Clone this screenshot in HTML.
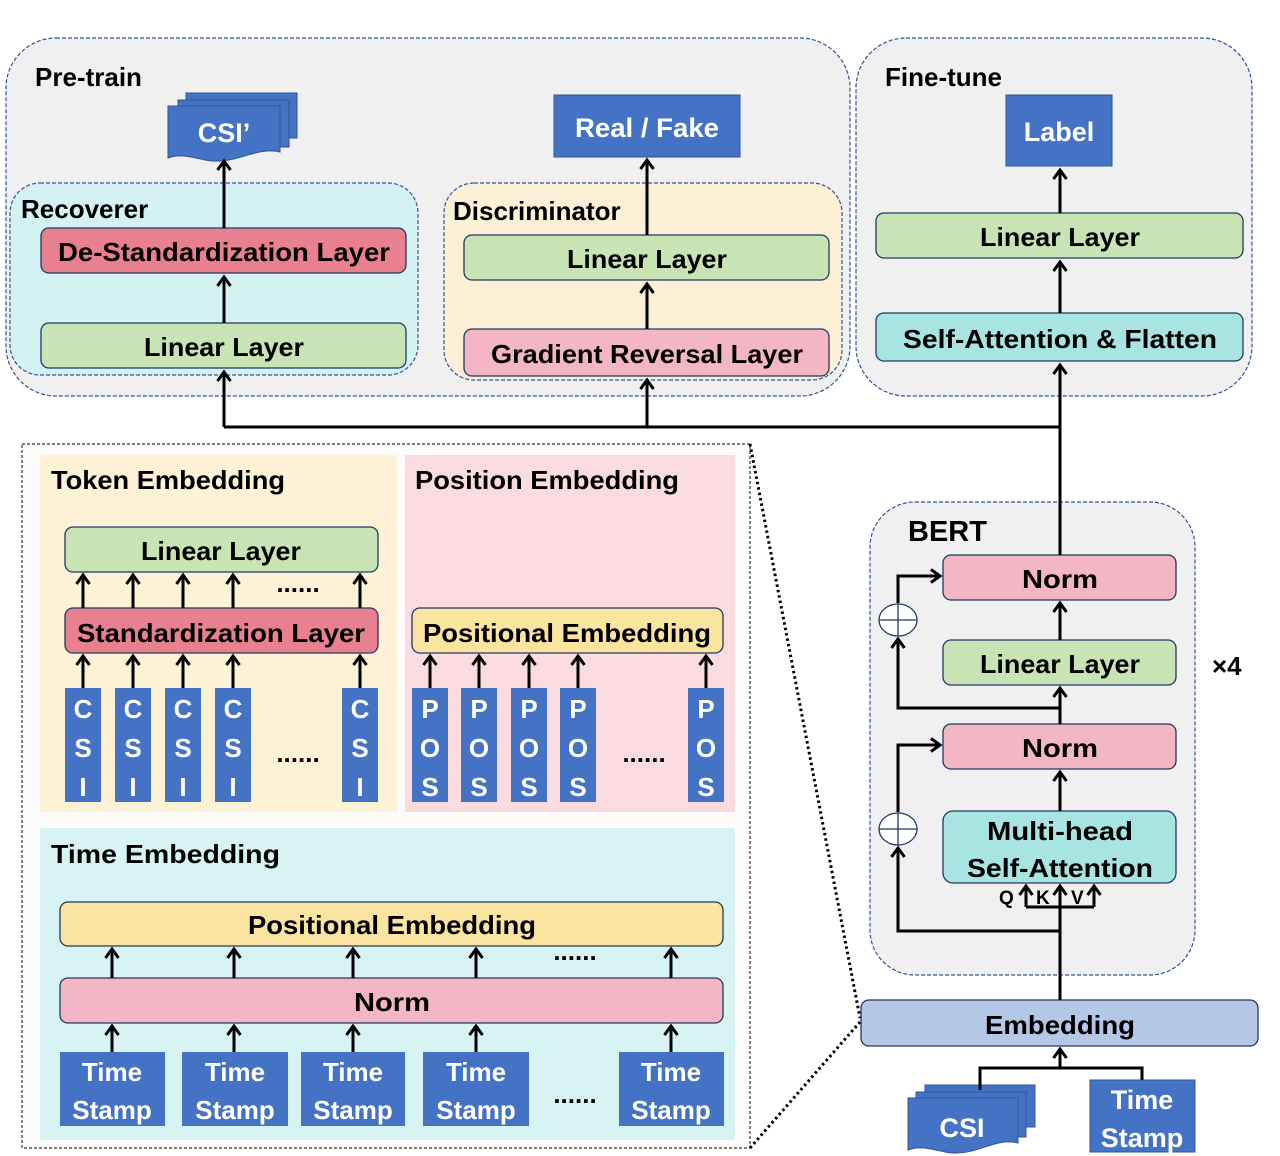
<!DOCTYPE html>
<html><head><meta charset="utf-8"><style>
html,body{margin:0;padding:0;background:#fff;}
svg{display:block;}
text{font-family:"Liberation Sans",sans-serif;font-weight:bold;}
</style></head><body>
<svg width="1280" height="1156" viewBox="0 0 1280 1156" xmlns="http://www.w3.org/2000/svg">
<defs>
<marker id="a" markerUnits="userSpaceOnUse" markerWidth="18" markerHeight="18" refX="11" refY="8" orient="auto">
<path d="M2,1.5 L11,8 L2,14.5" fill="none" stroke="#000" stroke-width="3"/>
</marker>
</defs>
<g stroke="#2f5597" stroke-width="1.2" stroke-dasharray="4,2">
<rect x="6" y="38" width="844" height="358" rx="50" fill="#f0f0f0"/>
<rect x="856" y="38" width="396" height="358" rx="50" fill="#f0f0f0"/>
<rect x="10" y="183" width="408" height="192" rx="30" fill="#d5f2f2"/>
<rect x="444" y="183" width="398" height="197" rx="30" fill="#fbf0d5"/>
<rect x="870" y="502" width="325" height="473" rx="45" fill="#f0f0f0"/>
</g>
<text x="35" y="86" font-size="26">Pre-train</text>
<text x="885" y="86" font-size="26">Fine-tune</text>
<text x="21" y="218" font-size="26">Recoverer</text>
<text x="453" y="220" font-size="26">Discriminator</text>
<text x="908" y="541" font-size="29">BERT</text>
<text x="1212" y="675" font-size="26">×4</text>

<g stroke="#1f3864" stroke-width="1.3">
<rect x="41" y="228" width="365" height="45" rx="8" fill="#e8808f"/>
<rect x="41" y="323" width="365" height="45" rx="8" fill="#c9e4b4"/>
<rect x="464" y="235" width="365" height="45" rx="8" fill="#c9e4b4"/>
<rect x="464" y="329" width="365" height="47" rx="8" fill="#f3b6c4"/>
<rect x="876" y="213" width="367" height="45" rx="8" fill="#c9e4b4"/>
<rect x="876" y="313" width="367" height="48" rx="8" fill="#a8e5e2"/>
<rect x="943" y="555" width="233" height="45" rx="8" fill="#f3b6c4"/>
<rect x="943" y="640" width="233" height="45" rx="8" fill="#c9e4b4"/>
<rect x="943" y="724" width="233" height="45" rx="8" fill="#f3b6c4"/>
<rect x="943" y="811" width="233" height="72" rx="10" fill="#a8e5e2"/>
<rect x="861" y="1000" width="397" height="46" rx="8" fill="#b4c7e7"/>
</g>
<g font-size="26" text-anchor="middle">
<text x="224" y="261" textLength="332" lengthAdjust="spacingAndGlyphs">De-Standardization Layer</text>
<text x="224" y="356" textLength="160" lengthAdjust="spacingAndGlyphs">Linear Layer</text>
<text x="647" y="268" textLength="160" lengthAdjust="spacingAndGlyphs">Linear Layer</text>
<text x="647" y="363" textLength="312" lengthAdjust="spacingAndGlyphs">Gradient Reversal Layer</text>
<text x="1060" y="246" textLength="160" lengthAdjust="spacingAndGlyphs">Linear Layer</text>
<text x="1060" y="348" textLength="314" lengthAdjust="spacingAndGlyphs">Self-Attention &amp; Flatten</text>
<text x="1060" y="588" textLength="76" lengthAdjust="spacingAndGlyphs">Norm</text>
<text x="1060" y="673" textLength="160" lengthAdjust="spacingAndGlyphs">Linear Layer</text>
<text x="1060" y="757" textLength="76" lengthAdjust="spacingAndGlyphs">Norm</text>
<text x="1060" y="840" textLength="146" lengthAdjust="spacingAndGlyphs">Multi-head</text>
<text x="1060" y="877" textLength="186" lengthAdjust="spacingAndGlyphs">Self-Attention</text>
<text x="1060" y="1034" textLength="150" lengthAdjust="spacingAndGlyphs">Embedding</text>
</g>

<g fill="#4472c4" stroke="#2f5597" stroke-width="1">
<rect x="186" y="93" width="111" height="45"/>
<rect x="178" y="100" width="111" height="47"/>
<path d="M168,106 H280 V152 C255,146 235,166 205,160 C188,156 178,154 168,158 Z"/>
<rect x="554" y="95" width="186" height="62"/>
<rect x="1006" y="95" width="106" height="71"/>
<rect x="925" y="1085" width="110" height="42"/>
<rect x="916" y="1092" width="110" height="45"/>
<path d="M908,1098 H1018 V1143 C993,1137 975,1158 945,1152 C928,1148 918,1146 908,1150 Z"/>
<rect x="1090" y="1080" width="105" height="72"/>
</g>
<g fill="#fff" font-size="27" text-anchor="middle">
<text x="224" y="142">CSI’</text>
<text x="647" y="137" textLength="144" lengthAdjust="spacingAndGlyphs">Real / Fake</text>
<text x="1059" y="141">Label</text>
<text x="962" y="1137">CSI</text>
<text x="1142" y="1109">Time</text>
<text x="1142" y="1147">Stamp</text>
</g>

<g stroke="#000" stroke-width="3" fill="none">
<path d="M224,427 H1060"/>
<path d="M224,427 V372" marker-end="url(#a)"/>
<path d="M647,427 V380" marker-end="url(#a)"/>
<path d="M1060,427 V365" marker-end="url(#a)"/>
<path d="M224,323 V277" marker-end="url(#a)"/>
<path d="M224,228 V161" marker-end="url(#a)"/>
<path d="M647,329 V284" marker-end="url(#a)"/>
<path d="M647,235 V160" marker-end="url(#a)"/>
<path d="M1060,313 V262" marker-end="url(#a)"/>
<path d="M1060,213 V170" marker-end="url(#a)"/>
<path d="M1060,555 V427"/>
<path d="M1060,1000 V907"/>
<path d="M1026,907 H1094"/>
<path d="M1026,907 V886" marker-end="url(#a)"/>
<path d="M1060,907 V886" marker-end="url(#a)"/>
<path d="M1094,907 V886" marker-end="url(#a)"/>
<path d="M1060,931 H898 V848" marker-end="url(#a)"/>
<path d="M898,812 V745 H940" marker-end="url(#a)"/>
<path d="M1060,811 V772" marker-end="url(#a)"/>
<path d="M1060,724 V688" marker-end="url(#a)"/>
<path d="M1060,708 H898 V639" marker-end="url(#a)"/>
<path d="M898,603 V576 H940" marker-end="url(#a)"/>
<path d="M1060,640 V603" marker-end="url(#a)"/>
<path d="M980,1090 V1068 H1142 V1080"/>
<path d="M1060,1068 V1049" marker-end="url(#a)"/>
</g>
<g stroke="#1f3864" stroke-width="1.3" fill="#fff">
<ellipse cx="898" cy="829" rx="19" ry="16"/>
<ellipse cx="898" cy="620" rx="19" ry="16"/>
<path d="M879,829 H917 M898,813 V845 M879,620 H917 M898,604 V636" fill="none"/>
</g>
<g font-size="19"><text x="999" y="904">Q</text><text x="1036" y="904">K</text><text x="1071" y="904">V</text></g>

<rect x="22" y="444" width="728" height="704" fill="#fcfcfc" stroke="#333" stroke-width="1.2" stroke-dasharray="3,2"/>
<path d="M750,444 L860,1018 M750,1148 L860,1022" stroke="#000" stroke-width="3" stroke-dasharray="2.5,3" fill="none"/>
<rect x="40" y="455" width="357" height="357" fill="#fdf1d6"/>
<rect x="405" y="455" width="330" height="357" fill="#fadbe0"/>
<rect x="40" y="828" width="695" height="312" fill="#d8f3f3"/>
<g font-size="26">
<text x="51" y="489" textLength="234" lengthAdjust="spacingAndGlyphs">Token Embedding</text>
<text x="415" y="489" textLength="264" lengthAdjust="spacingAndGlyphs">Position Embedding</text>
<text x="51" y="863" textLength="229" lengthAdjust="spacingAndGlyphs">Time  Embedding</text>
</g>
<g stroke="#1f3864" stroke-width="1.3">
<rect x="65" y="527" width="313" height="45" rx="8" fill="#c9e4b4"/>
<rect x="65" y="608" width="313" height="45" rx="8" fill="#e8808f"/>
<rect x="412" y="608" width="311" height="45" rx="8" fill="#fbe3a0"/>
<rect x="60" y="902" width="663" height="44" rx="8" fill="#fbe3a0"/>
<rect x="60" y="978" width="663" height="45" rx="8" fill="#f3b6c4"/>
</g>
<g font-size="26" text-anchor="middle">
<text x="221" y="560" textLength="160" lengthAdjust="spacingAndGlyphs">Linear Layer</text>
<text x="221" y="642" textLength="288" lengthAdjust="spacingAndGlyphs">Standardization Layer</text>
<text x="567" y="642" textLength="288" lengthAdjust="spacingAndGlyphs">Positional Embedding</text>
<text x="392" y="934" textLength="288" lengthAdjust="spacingAndGlyphs">Positional Embedding</text>
<text x="392" y="1011" textLength="76" lengthAdjust="spacingAndGlyphs">Norm</text>
</g>
<g fill="#4472c4">
<rect x="65" y="688" width="36" height="114"/><rect x="115" y="688" width="36" height="114"/>
<rect x="165" y="688" width="36" height="114"/><rect x="215" y="688" width="36" height="114"/>
<rect x="342" y="688" width="36" height="114"/>
<rect x="412" y="688" width="36" height="114"/><rect x="461" y="688" width="36" height="114"/>
<rect x="511" y="688" width="36" height="114"/><rect x="560" y="688" width="36" height="114"/>
<rect x="688" y="688" width="36" height="114"/>
<rect x="60" y="1052" width="105" height="74"/><rect x="182" y="1052" width="106" height="74"/>
<rect x="301" y="1052" width="104" height="74"/><rect x="423" y="1052" width="106" height="74"/>
<rect x="619" y="1052" width="105" height="74"/>
</g>
<g fill="#fff" font-size="26" text-anchor="middle">
<text x="83" y="718">C</text><text x="83" y="757">S</text><text x="83" y="796">I</text>
<text x="133" y="718">C</text><text x="133" y="757">S</text><text x="133" y="796">I</text>
<text x="183" y="718">C</text><text x="183" y="757">S</text><text x="183" y="796">I</text>
<text x="233" y="718">C</text><text x="233" y="757">S</text><text x="233" y="796">I</text>
<text x="360" y="718">C</text><text x="360" y="757">S</text><text x="360" y="796">I</text>
<text x="430" y="718">P</text><text x="430" y="757">O</text><text x="430" y="796">S</text>
<text x="479" y="718">P</text><text x="479" y="757">O</text><text x="479" y="796">S</text>
<text x="529" y="718">P</text><text x="529" y="757">O</text><text x="529" y="796">S</text>
<text x="578" y="718">P</text><text x="578" y="757">O</text><text x="578" y="796">S</text>
<text x="706" y="718">P</text><text x="706" y="757">O</text><text x="706" y="796">S</text>
<text x="112" y="1081">Time</text><text x="112" y="1119">Stamp</text>
<text x="235" y="1081">Time</text><text x="235" y="1119">Stamp</text>
<text x="353" y="1081">Time</text><text x="353" y="1119">Stamp</text>
<text x="476" y="1081">Time</text><text x="476" y="1119">Stamp</text>
<text x="671" y="1081">Time</text><text x="671" y="1119">Stamp</text>
</g>
<g font-size="26" text-anchor="middle">
<text x="298" y="592">......</text><text x="298" y="762">......</text>
<text x="644" y="762">......</text>
<text x="575" y="960">......</text><text x="575" y="1103">......</text>
</g>
<g stroke="#000" stroke-width="3" fill="none" marker-end="url(#a)">
<path d="M83,688 V656"/><path d="M133,688 V656"/><path d="M183,688 V656"/><path d="M233,688 V656"/><path d="M360,688 V656"/>
<path d="M83,608 V575"/><path d="M133,608 V575"/><path d="M183,608 V575"/><path d="M233,608 V575"/><path d="M360,608 V575"/>
<path d="M430,688 V656"/><path d="M479,688 V656"/><path d="M529,688 V656"/><path d="M578,688 V656"/><path d="M706,688 V656"/>
<path d="M112,1052 V1026"/><path d="M234,1052 V1026"/><path d="M353,1052 V1026"/><path d="M476,1052 V1026"/><path d="M671,1052 V1026"/>
<path d="M112,978 V949"/><path d="M234,978 V949"/><path d="M353,978 V949"/><path d="M476,978 V949"/><path d="M671,978 V949"/>
</g>
</svg>
</body></html>
